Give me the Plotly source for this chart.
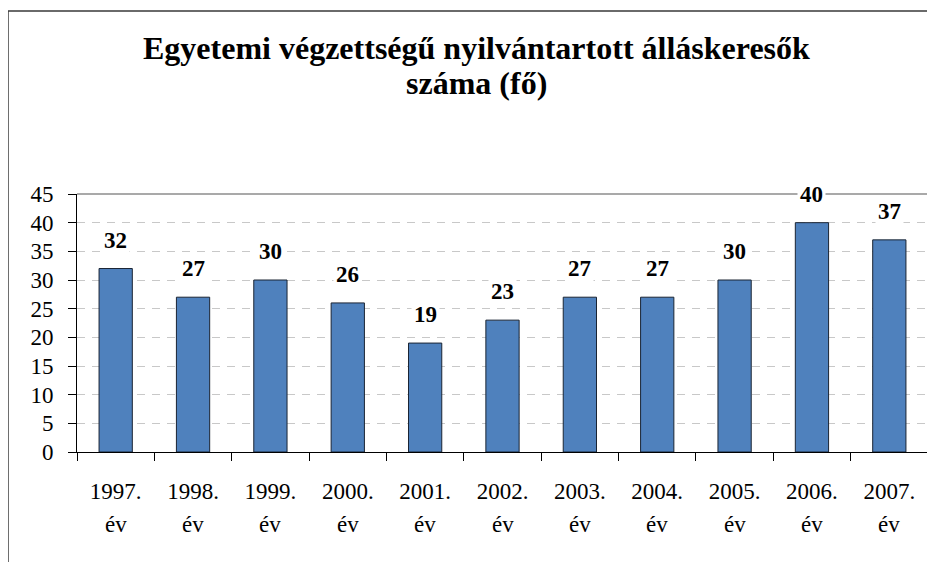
import plotly.graph_objects as go

years = ["1997.", "1998.", "1999.", "2000.", "2001.", "2002.", "2003.", "2004.", "2005.", "2006.", "2007."]
suffix = "év"
values = [32, 27, 30, 26, 19, 23, 27, 27, 30, 40, 37]
title_lines = ["Egyetemi végzettségű nyilvántartott álláskeresők", "száma (fő)"]

FONT = "Liberation Serif"

fig = go.Figure()
fig.add_trace(go.Bar(
    x=list(range(len(years))), y=values,
    marker=dict(color="#4F81BD", line=dict(color="#1a2433", width=1)),
    width=0.43,
    hoverinfo="skip",
))

annotations = []
for i, v in enumerate(values):
    annotations.append(dict(
        x=i, y=v, xref="x", yref="y", text=f"<b>{v}</b>", showarrow=False,
        yanchor="bottom", yshift=13, bgcolor="white", borderpad=2,
        font=dict(family=FONT, size=23, color="black"),
    ))
    annotations.append(dict(
        x=i, y=-0.28, xref="x", yref="paper", text=suffix, showarrow=False,
        yanchor="middle", font=dict(family=FONT, size=23, color="black"),
    ))

annotations.append(dict(x=0.469, y=1.566, xref="paper", yref="paper", text=f"<b>{title_lines[0]}</b>",
                        showarrow=False, yanchor="middle", font=dict(family=FONT, size=32, color="black")))
annotations.append(dict(x=0.469, y=1.43, xref="paper", yref="paper", text=f"<b>{title_lines[1]}</b>",
                        showarrow=False, yanchor="middle", font=dict(family=FONT, size=32, color="black")))

# page body has an 8px margin, so the figure is shrunk by 8px and margins adjusted
fig.update_layout(
    width=927, height=554,
    margin=dict(l=69, r=7, t=186, b=110),
    paper_bgcolor="white", plot_bgcolor="white",
    showlegend=False,
    annotations=annotations,
    shapes=[
        dict(type="rect", xref="paper", yref="paper", x0=-0.0811, x1=1.03, y0=-0.5, y1=1.709,
             line=dict(color="#3a3a3a", width=1.5), layer="below"),
        dict(type="line", xref="paper", yref="paper", x0=0, x1=1, y0=1, y1=1,
             line=dict(color="#555555", width=1.2), layer="above"),
        dict(type="line", xref="paper", yref="paper", x0=1, x1=1, y0=0, y1=1,
             line=dict(color="#555555", width=1.2), layer="above"),
    ],
)
fig.update_xaxes(
    range=[-0.5, len(years) - 0.5],
    tickmode="array", tickvals=list(range(len(years))), ticktext=years,
    ticks="", showline=True, linecolor="black", linewidth=1, showgrid=False,
    minor=dict(tickmode="array", tickvals=[i - 0.5 for i in range(len(years) + 1)],
               ticks="outside", ticklen=8, tickcolor="black", showgrid=False),
    tickfont=dict(family=FONT, size=23, color="black"), ticklabelstandoff=18,
    tickangle=0, zeroline=False,
)
fig.update_yaxes(
    range=[0, 45], dtick=5, ticks="outside", ticklen=8, tickcolor="black",
    showline=True, linecolor="black", linewidth=1,
    showgrid=True, gridcolor="#c8c8c8", griddash="8px,7px", gridwidth=1,
    zeroline=False,
    tickfont=dict(family=FONT, size=23, color="black"), ticklabelstandoff=10,
)

fig.write_html("out.html")
